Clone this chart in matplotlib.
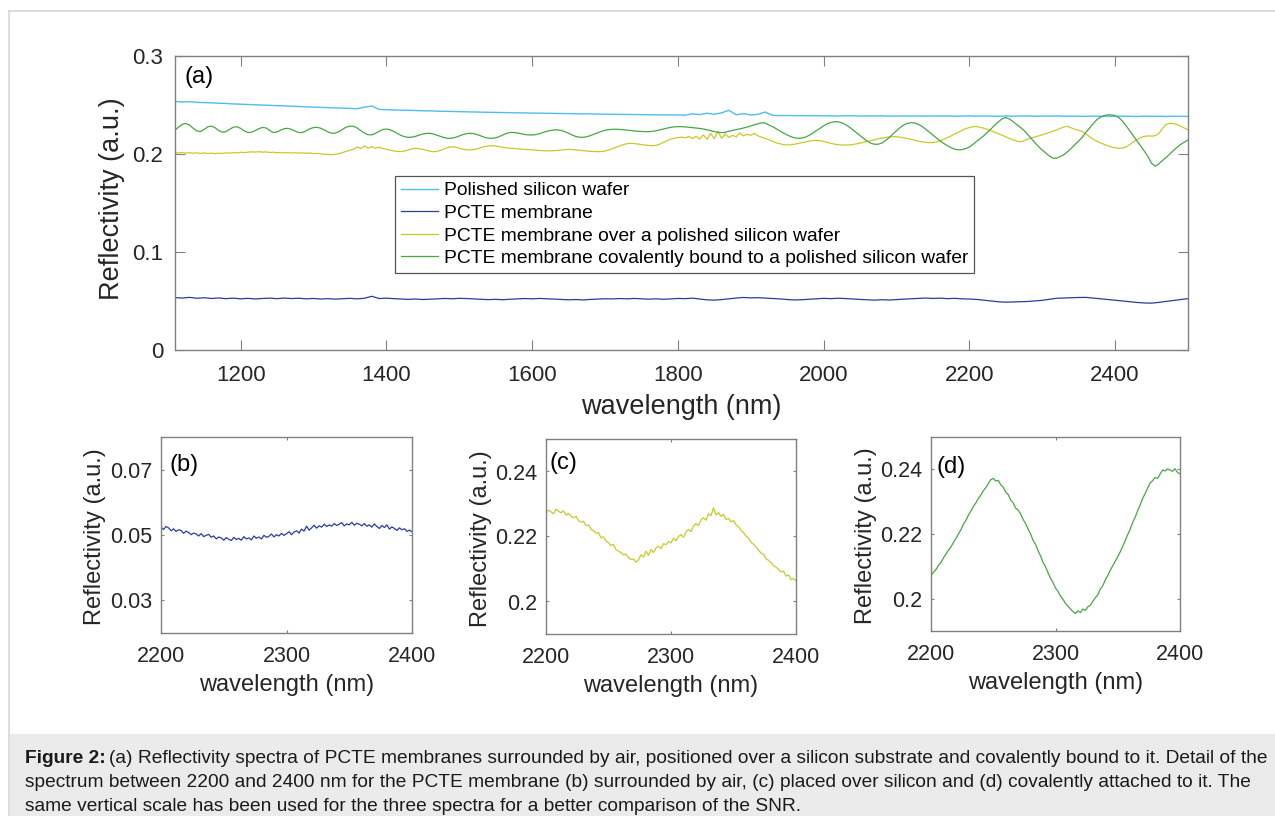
import numpy as np
import matplotlib
matplotlib.use("Agg")
import matplotlib.pyplot as plt
from matplotlib.patches import Rectangle

plt.rcParams['font.family'] = ['Liberation Sans', 'DejaVu Sans']

# ---------------- data ----------------
wl_10 = np.arange(1110, 2501, 10)      # 140 samples
wl_5 = np.arange(1110, 2501, 5)        # 279 samples
wl_detail = np.arange(2200, 2401, 2)   # 101 samples

silicon = [
    0.2536, 0.2531, 0.2534, 0.2527, 0.2525, 0.2522, 0.2518, 0.2516, 0.2511, 0.2508,
    0.2505, 0.2503, 0.2499, 0.2497, 0.2492, 0.2490, 0.2487, 0.2485, 0.2481, 0.2478,
    0.2476, 0.2472, 0.2470, 0.2468, 0.2465, 0.2462, 0.2478, 0.2490, 0.2455, 0.2452,
    0.2450, 0.2447, 0.2446, 0.2443, 0.2441, 0.2440, 0.2437, 0.2436, 0.2434, 0.2432,
    0.2430, 0.2429, 0.2427, 0.2426, 0.2424, 0.2423, 0.2421, 0.2420, 0.2419, 0.2417,
    0.2416, 0.2415, 0.2414, 0.2413, 0.2412, 0.2410, 0.2409, 0.2409, 0.2407, 0.2406,
    0.2405, 0.2404, 0.2403, 0.2403, 0.2402, 0.2401, 0.2400, 0.2399, 0.2399, 0.2398,
    0.2396, 0.2410, 0.2402, 0.2416, 0.2405, 0.2420, 0.2446, 0.2400, 0.2412, 0.2398,
    0.2405, 0.2428, 0.2394, 0.2392, 0.2393, 0.2391, 0.2392, 0.2390, 0.2391, 0.2389,
    0.2390, 0.2388, 0.2389, 0.2391, 0.2387, 0.2389, 0.2388, 0.2390, 0.2386, 0.2388,
    0.2389, 0.2387, 0.2388, 0.2386, 0.2389, 0.2387, 0.2388, 0.2386, 0.2387, 0.2389,
    0.2386, 0.2388, 0.2387, 0.2385, 0.2388, 0.2386, 0.2387, 0.2389, 0.2385, 0.2387,
    0.2386, 0.2388, 0.2385, 0.2387, 0.2386, 0.2384, 0.2387, 0.2385, 0.2386, 0.2384,
    0.2386, 0.2385, 0.2383, 0.2386, 0.2384, 0.2385, 0.2383, 0.2385, 0.2384, 0.2383,
]

pcte = [
    0.0535, 0.0530, 0.0537, 0.0528, 0.0533, 0.0526, 0.0531, 0.0524, 0.0529, 0.0522,
    0.0527, 0.0521, 0.0526, 0.0529, 0.0524, 0.0530, 0.0525, 0.0528, 0.0522, 0.0526,
    0.0520, 0.0524, 0.0519, 0.0523, 0.0527, 0.0522, 0.0528, 0.0548, 0.0525, 0.0529,
    0.0524, 0.0521, 0.0517, 0.0520, 0.0515, 0.0518, 0.0522, 0.0526, 0.0523, 0.0527,
    0.0525, 0.0521, 0.0518, 0.0514, 0.0517, 0.0513, 0.0518, 0.0521, 0.0525, 0.0522,
    0.0526, 0.0523, 0.0519, 0.0516, 0.0512, 0.0515, 0.0511, 0.0516, 0.0519, 0.0523,
    0.0521, 0.0525, 0.0522, 0.0526, 0.0523, 0.0519, 0.0522, 0.0518, 0.0521, 0.0526,
    0.0524, 0.0529, 0.0520, 0.0512, 0.0509, 0.0514, 0.0522, 0.0530, 0.0536, 0.0532,
    0.0534, 0.0530, 0.0526, 0.0521, 0.0515, 0.0511, 0.0513, 0.0518, 0.0522, 0.0527,
    0.0524, 0.0528, 0.0525, 0.0520, 0.0516, 0.0512, 0.0509, 0.0513, 0.0510, 0.0515,
    0.0519, 0.0523, 0.0527, 0.0530, 0.0526, 0.0529, 0.0524, 0.0527, 0.0522, 0.0520,
    0.0516, 0.0508, 0.0500, 0.0492, 0.0488, 0.0490, 0.0491, 0.0495, 0.0501, 0.0507,
    0.0518, 0.0528, 0.0531, 0.0533, 0.0536, 0.0537, 0.0530, 0.0524, 0.0516, 0.0508,
    0.0500, 0.0492, 0.0485, 0.0480, 0.0478, 0.0486, 0.0496, 0.0506, 0.0515, 0.0524,
]

pcte_over_si = [
    0.2015, 0.2010, 0.2016, 0.2009, 0.2013, 0.2008, 0.2012, 0.2006, 0.2011, 0.2005,
    0.2009, 0.2004, 0.2008, 0.2006, 0.2011, 0.2009, 0.2014, 0.2012, 0.2017, 0.2015,
    0.2019, 0.2022, 0.2020, 0.2024, 0.2019, 0.2021, 0.2016, 0.2018, 0.2013, 0.2016,
    0.2011, 0.2014, 0.2010, 0.2013, 0.2009, 0.2012, 0.2008, 0.2010, 0.2004, 0.2006,
    0.2001, 0.1999, 0.1996, 0.1993, 0.1997, 0.2004, 0.2015, 0.2025, 0.2038, 0.2049,
    0.2072, 0.2055, 0.2082, 0.2060, 0.2075, 0.2058, 0.2070, 0.2056, 0.2050, 0.2040,
    0.2032, 0.2026, 0.2025, 0.2030, 0.2040, 0.2051, 0.2058, 0.2055, 0.2048, 0.2037,
    0.2028, 0.2024, 0.2026, 0.2040, 0.2055, 0.2068, 0.2074, 0.2070, 0.2060, 0.2049,
    0.2043, 0.2041, 0.2045, 0.2054, 0.2066, 0.2076, 0.2083, 0.2085, 0.2081, 0.2074,
    0.2068, 0.2062, 0.2059, 0.2056, 0.2054, 0.2050, 0.2047, 0.2043, 0.2040, 0.2038,
    0.2036, 0.2034, 0.2033, 0.2032, 0.2034, 0.2037, 0.2041, 0.2044, 0.2046, 0.2045,
    0.2042, 0.2038, 0.2034, 0.2030, 0.2027, 0.2025, 0.2024, 0.2025, 0.2030, 0.2041,
    0.2055, 0.2070, 0.2084, 0.2096, 0.2105, 0.2109, 0.2106, 0.2101, 0.2095, 0.2090,
    0.2087, 0.2085, 0.2088, 0.2100, 0.2118, 0.2135, 0.2150, 0.2161, 0.2168, 0.2172,
    0.2165, 0.2178, 0.2158, 0.2180, 0.2152, 0.2195, 0.2150, 0.2210, 0.2155, 0.2230,
    0.2160, 0.2205, 0.2168, 0.2190, 0.2175, 0.2215, 0.2185, 0.2200, 0.2192, 0.2210,
    0.2185, 0.2172, 0.2160, 0.2145, 0.2130, 0.2115, 0.2104, 0.2096, 0.2092, 0.2094,
    0.2100, 0.2108, 0.2116, 0.2124, 0.2131, 0.2136, 0.2138, 0.2136, 0.2128, 0.2118,
    0.2108, 0.2100, 0.2095, 0.2092, 0.2091, 0.2093, 0.2097, 0.2103, 0.2111, 0.2120,
    0.2129, 0.2138, 0.2147, 0.2155, 0.2163, 0.2169, 0.2174, 0.2177, 0.2176, 0.2172,
    0.2166, 0.2158, 0.2149, 0.2140, 0.2131, 0.2124, 0.2119, 0.2116, 0.2117, 0.2124,
    0.2135, 0.2150, 0.2167, 0.2185, 0.2204, 0.2222, 0.2241, 0.2258, 0.2270, 0.2279,
    0.2280, 0.2272, 0.2262, 0.2250, 0.2236, 0.2222, 0.2207, 0.2191, 0.2176, 0.2160,
    0.2143, 0.2132, 0.2125, 0.2135, 0.2152, 0.2163, 0.2175, 0.2186, 0.2197, 0.2207,
    0.2220, 0.2232, 0.2246, 0.2262, 0.2278, 0.2281, 0.2266, 0.2252, 0.2242, 0.2230,
    0.2204, 0.2176, 0.2150, 0.2130, 0.2113, 0.2098, 0.2084, 0.2072, 0.2063, 0.2059,
    0.2060, 0.2072, 0.2095, 0.2122, 0.2148, 0.2168, 0.2180, 0.2184, 0.2183, 0.2186,
    0.2210, 0.2262, 0.2300, 0.2313, 0.2310, 0.2300, 0.2285, 0.2265, 0.2245,
]

pcte_bound_si = [
    0.2245, 0.2275, 0.2303, 0.2312, 0.2295, 0.2262, 0.2235, 0.2230, 0.2250, 0.2278,
    0.2285, 0.2268, 0.2240, 0.2222, 0.2228, 0.2252, 0.2274, 0.2278, 0.2262, 0.2236,
    0.2219, 0.2222, 0.2238, 0.2258, 0.2271, 0.2266, 0.2240, 0.2219, 0.2225, 0.2243,
    0.2258, 0.2262, 0.2250, 0.2232, 0.2219, 0.2220, 0.2237, 0.2257, 0.2270, 0.2272,
    0.2263, 0.2245, 0.2225, 0.2212, 0.2213, 0.2228, 0.2252, 0.2274, 0.2285, 0.2283,
    0.2265, 0.2238, 0.2212, 0.2197, 0.2195, 0.2210, 0.2232, 0.2250, 0.2255, 0.2247,
    0.2230, 0.2210, 0.2190, 0.2176, 0.2170, 0.2172, 0.2180, 0.2193, 0.2204, 0.2210,
    0.2211, 0.2203, 0.2190, 0.2176, 0.2165, 0.2160, 0.2161, 0.2170, 0.2184, 0.2198,
    0.2207, 0.2211, 0.2208, 0.2197, 0.2183, 0.2170, 0.2162, 0.2160, 0.2165, 0.2178,
    0.2195, 0.2210, 0.2219, 0.2220, 0.2214, 0.2206, 0.2199, 0.2195, 0.2194, 0.2198,
    0.2207, 0.2219, 0.2231, 0.2240, 0.2245, 0.2246, 0.2240, 0.2228, 0.2212, 0.2194,
    0.2179, 0.2171, 0.2170, 0.2176, 0.2188, 0.2202, 0.2217, 0.2231, 0.2242, 0.2249,
    0.2252, 0.2253, 0.2251, 0.2248, 0.2244, 0.2240, 0.2236, 0.2232, 0.2230, 0.2228,
    0.2228, 0.2231, 0.2237, 0.2246, 0.2256, 0.2265, 0.2272, 0.2277, 0.2279, 0.2279,
    0.2277, 0.2273, 0.2268, 0.2264, 0.2261, 0.2255, 0.2247, 0.2238, 0.2229, 0.2222,
    0.2218, 0.2222, 0.2232, 0.2240, 0.2248, 0.2256, 0.2265, 0.2275, 0.2287, 0.2298,
    0.2308, 0.2318, 0.2315, 0.2296, 0.2279, 0.2258, 0.2236, 0.2214, 0.2194, 0.2177,
    0.2165, 0.2160, 0.2162, 0.2172, 0.2190, 0.2213, 0.2238, 0.2263, 0.2287, 0.2308,
    0.2322, 0.2329, 0.2328, 0.2318, 0.2300, 0.2276, 0.2248, 0.2218, 0.2188, 0.2158,
    0.2130, 0.2110, 0.2099, 0.2100, 0.2112, 0.2137, 0.2168, 0.2203, 0.2238, 0.2270,
    0.2296, 0.2313, 0.2320, 0.2317, 0.2303, 0.2281, 0.2254, 0.2224, 0.2193, 0.2162,
    0.2133, 0.2107, 0.2084, 0.2064, 0.2049, 0.2042, 0.2045, 0.2056, 0.2071, 0.2098,
    0.2130, 0.2158, 0.2188, 0.2222, 0.2259, 0.2295, 0.2330, 0.2360, 0.2372, 0.2357,
    0.2330, 0.2300, 0.2272, 0.2240, 0.2200, 0.2157, 0.2115, 0.2075, 0.2040, 0.2008,
    0.1978, 0.1956, 0.1958, 0.1975, 0.1995, 0.2025, 0.2060, 0.2098, 0.2132, 0.2172,
    0.2222, 0.2265, 0.2310, 0.2352, 0.2375, 0.2392, 0.2400, 0.2398, 0.2393, 0.2372,
    0.2335, 0.2288, 0.2238, 0.2186, 0.2134, 0.2082, 0.2030, 0.1975, 0.1905, 0.1875,
    0.1900, 0.1935, 0.1965, 0.2000, 0.2035, 0.2068, 0.2098, 0.2122, 0.2145,
]

detail_pcte = [
    0.0524, 0.0517, 0.0526, 0.0522, 0.0513, 0.0519, 0.0511, 0.0516, 0.0514, 0.0505, 0.0512,
    0.0508, 0.0501, 0.0506, 0.0503, 0.0497, 0.0504, 0.0495, 0.0499, 0.0502, 0.0493,
    0.0497, 0.0488, 0.0494, 0.0491, 0.0484, 0.0492, 0.0487, 0.0483, 0.0493, 0.0486,
    0.0490, 0.0484, 0.0495, 0.0488, 0.0491, 0.0485, 0.0497, 0.0490, 0.0494, 0.0488,
    0.0499, 0.0493, 0.0496, 0.0503, 0.0494, 0.0501, 0.0497, 0.0505, 0.0499, 0.0504,
    0.0510, 0.0501, 0.0509, 0.0513, 0.0506, 0.0518, 0.0512, 0.0527, 0.0515, 0.0522,
    0.0530, 0.0521, 0.0528, 0.0524, 0.0533, 0.0526, 0.0531, 0.0527, 0.0535, 0.0529,
    0.0533, 0.0538, 0.0528, 0.0534, 0.0531, 0.0539, 0.0530, 0.0536, 0.0533, 0.0528,
    0.0535, 0.0527, 0.0531, 0.0524, 0.0534, 0.0526, 0.0520, 0.0529, 0.0523, 0.0531,
    0.0518, 0.0525, 0.0520, 0.0514, 0.0522, 0.0516, 0.0519, 0.0511, 0.0515, 0.0510,
]

detail_over_si = [
    0.2272, 0.2281, 0.2276, 0.2270, 0.2284, 0.2278, 0.2273, 0.2279, 0.2266, 0.2271, 0.2262,
    0.2258, 0.2262, 0.2249, 0.2244, 0.2247, 0.2233, 0.2236, 0.2222, 0.2218, 0.2210,
    0.2212, 0.2196, 0.2199, 0.2186, 0.2181, 0.2172, 0.2176, 0.2159, 0.2155, 0.2150,
    0.2143, 0.2146, 0.2135, 0.2129, 0.2131, 0.2121, 0.2128, 0.2144, 0.2136, 0.2155,
    0.2142, 0.2160, 0.2151, 0.2165, 0.2170, 0.2163, 0.2178, 0.2175, 0.2184, 0.2180,
    0.2195, 0.2187, 0.2200, 0.2206, 0.2198, 0.2214, 0.2222, 0.2215, 0.2233, 0.2240,
    0.2234, 0.2251, 0.2258, 0.2250, 0.2270, 0.2264, 0.2288, 0.2266, 0.2274, 0.2262,
    0.2268, 0.2252, 0.2256, 0.2245, 0.2249, 0.2236, 0.2230, 0.2219, 0.2212, 0.2201,
    0.2195, 0.2182, 0.2176, 0.2168, 0.2158, 0.2149, 0.2145, 0.2131, 0.2127, 0.2120,
    0.2110, 0.2106, 0.2099, 0.2091, 0.2093, 0.2078, 0.2082, 0.2067, 0.2071, 0.2063,
]

detail_bound_si = [
    0.2071, 0.2082, 0.2090, 0.2103, 0.2112, 0.2126, 0.2138, 0.2150, 0.2160, 0.2174, 0.2186,
    0.2200, 0.2213, 0.2230, 0.2242, 0.2258, 0.2271, 0.2285, 0.2296, 0.2310, 0.2320,
    0.2334, 0.2343, 0.2356, 0.2368, 0.2372, 0.2364, 0.2366, 0.2352, 0.2345, 0.2330,
    0.2322, 0.2305, 0.2296, 0.2280, 0.2274, 0.2262, 0.2245, 0.2232, 0.2215, 0.2200,
    0.2180, 0.2168, 0.2148, 0.2132, 0.2112, 0.2098, 0.2080, 0.2063, 0.2050, 0.2033,
    0.2022, 0.2008, 0.1998, 0.1985, 0.1977, 0.1968, 0.1960, 0.1954, 0.1962, 0.1957,
    0.1968, 0.1964, 0.1975, 0.1980, 0.1992, 0.2003, 0.2012, 0.2030, 0.2040, 0.2058,
    0.2072, 0.2088, 0.2102, 0.2116, 0.2130, 0.2145, 0.2162, 0.2180, 0.2198, 0.2215,
    0.2236, 0.2252, 0.2272, 0.2290, 0.2310, 0.2325, 0.2342, 0.2358, 0.2365, 0.2375,
    0.2372, 0.2385, 0.2398, 0.2395, 0.2401, 0.2398, 0.2394, 0.2402, 0.2390, 0.2386,
]

labels = ["Polished silicon wafer", "PCTE membrane",
          "PCTE membrane over a polished silicon wafer",
          "PCTE membrane covalently bound to a polished silicon wafer"]
colors = ["#4dbeee", "#2b3ca0", "#c9c92a", "#45a845"]

main_xticks = [1200, 1400, 1600, 1800, 2000, 2200, 2400]
main_yticks = [0, 0.1, 0.2, 0.3]
detail_xticks = [2200, 2300, 2400]
b_yticks = [0.03, 0.05, 0.07]
cd_yticks = [0.20, 0.22, 0.24]

caption_lines = [
    "(a) Reflectivity spectra of PCTE membranes surrounded by air, positioned over a silicon substrate and covalently bound to it. Detail of the",
    "spectrum between 2200 and 2400 nm for the PCTE membrane (b) surrounded by air, (c) placed over silicon and (d) covalently attached to it. The",
    "same vertical scale has been used for the three spectra for a better comparison of the SNR.",
]

# ---------------- figure ----------------
W, H = 1275, 816
fig = plt.figure(figsize=(W / 100, H / 100), dpi=100)
fig.patch.set_facecolor("white")

def fx(px):
    return px / W

def fy(py):
    return 1 - py / H

# frame and caption box
fig.add_artist(plt.Line2D([fx(9), fx(9)], [0, fy(11)], color="#d8d8d8", lw=1.2))
fig.add_artist(plt.Line2D([fx(9), 1], [fy(11), fy(11)], color="#d8d8d8", lw=1.2))
fig.add_artist(Rectangle((fx(10), 0), 1 - fx(10), fy(734), facecolor="#ebebeb",
                         edgecolor="none", transform=fig.transFigure, zorder=0))

AX_COL = "#808080"
TXT_COL = "#262626"


def style_axes(ax, ticklen, fs_tick, padx, pady):
    for s in ax.spines.values():
        s.set_color(AX_COL)
        s.set_linewidth(1.0)
    ax.tick_params(direction="in", top=True, right=True, length=ticklen,
                   width=0.8, color=AX_COL, labelsize=fs_tick,
                   labelcolor=TXT_COL)
    ax.tick_params(axis="x", pad=padx)
    ax.tick_params(axis="y", pad=pady)


# main axes (a)
ax = fig.add_axes([fx(175), fy(350), fx(1188) - fx(175), fy(56) - fy(350)])
ax.plot(wl_10, silicon, color=colors[0], lw=1.0, label=labels[0])
ax.plot(wl_10, pcte, color=colors[1], lw=0.9, label=labels[1])
ax.plot(wl_5, pcte_over_si, color=colors[2], lw=0.9, label=labels[2])
ax.plot(wl_5, pcte_bound_si, color=colors[3], lw=0.9, label=labels[3])
ax.set_xlim(1110, 2500)
ax.set_ylim(0, 0.3)
ax.set_xticks(main_xticks)
ax.set_yticks(main_yticks)
ax.set_yticklabels(["0", "0.1", "0.2", "0.3"])
style_axes(ax, 7.2, 16, 10.5, 8.5)
ax.set_xlabel("wavelength (nm)", fontsize=19.5, color=TXT_COL, va="center")
ax.xaxis.set_label_coords(0.5, -(407 - 350) / 294)
ax.set_ylabel("Reflectivity (a.u.)", fontsize=19.5, color=TXT_COL, va="center")
ax.yaxis.set_label_coords((112 - 175) / 1013, 0.515)
ax.text(0.009, 0.93, "(a)", transform=ax.transAxes, fontsize=17,
        ha="left", va="center", color="black")
leg = ax.legend(loc="upper left", bbox_to_anchor=((395 - 175) / 1013, (350 - 176) / 294),
                borderaxespad=0, fontsize=13.85, handlelength=1.95, handletextpad=0.28,
                labelspacing=0.27, borderpad=0.3, fancybox=False, framealpha=1)
leg.get_frame().set_edgecolor("#555555")
leg.get_frame().set_linewidth(0.9)
for t in leg.get_texts():
    t.set_color("black")

# detail axes
detail_specs = [
    (161, 412, 437, 633, detail_pcte, colors[1], (0.02, 0.08), b_yticks,
     ["0.03", "0.05", "0.07"], "(b)", 0.032, 0.857),
    (546, 796, 439, 634, detail_over_si, colors[2], (0.19, 0.25), cd_yticks,
     ["0.2", "0.22", "0.24"], "(c)", 0.013, 0.877),
    (931, 1180, 437, 631, detail_bound_si, colors[3], (0.19, 0.25), cd_yticks,
     ["0.2", "0.22", "0.24"], "(d)", 0.023, 0.847),
]
for (l, r, t, b, data, col, ylim, yt, ytl, tag, tx, ty) in detail_specs:
    a = fig.add_axes([fx(l), fy(b), fx(r) - fx(l), fy(t) - fy(b)])
    a.plot(wl_detail, data, color=col, lw=0.9)
    a.set_xlim(2200, 2400)
    a.set_ylim(*ylim)
    a.set_xticks(detail_xticks)
    a.set_yticks(yt)
    a.set_yticklabels(ytl)
    style_axes(a, 2.5, 15.5, 9.5, 6.5)
    a.set_xlabel("wavelength (nm)", fontsize=17, color=TXT_COL, va="center")
    a.xaxis.set_label_coords(0.5, -(685.5 - 633) / 196)
    a.set_ylabel("Reflectivity (a.u.)", fontsize=17, color=TXT_COL, va="center")
    a.yaxis.set_label_coords(-0.262, 0.49)
    a.text(tx, ty, tag, transform=a.transAxes, fontsize=17, ha="left",
           va="center", color="black")

# caption
cap_fs = 13.8
fig.text(fx(25), fy(763.3), "Figure 2:", fontsize=cap_fs, fontweight="bold",
         color="#1a1a1a", ha="left", va="baseline")
fig.text(fx(109), fy(763.3), caption_lines[0], fontsize=cap_fs,
         color="#1a1a1a", ha="left", va="baseline")
fig.text(fx(25), fy(787.3), caption_lines[1], fontsize=cap_fs,
         color="#1a1a1a", ha="left", va="baseline")
fig.text(fx(25), fy(810.7), caption_lines[2], fontsize=cap_fs,
         color="#1a1a1a", ha="left", va="baseline")

fig.savefig("out.png", dpi=100)
